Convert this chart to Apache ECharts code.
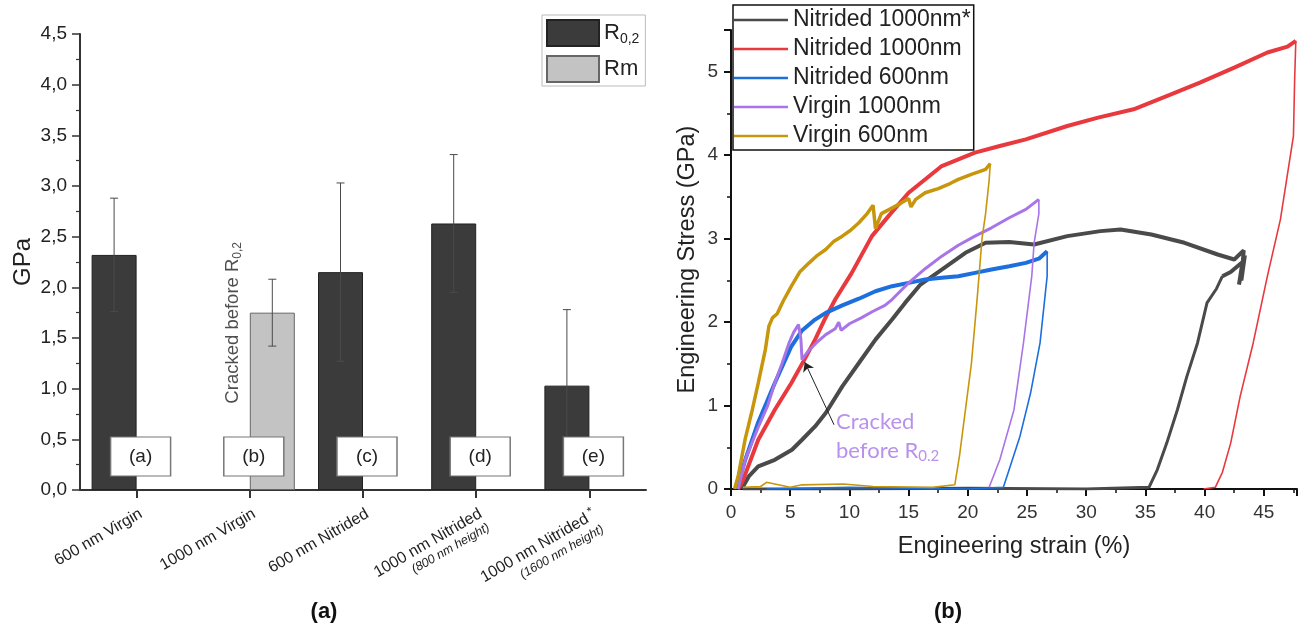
<!DOCTYPE html>
<html>
<head>
<meta charset="utf-8">
<script src="https://cdn.jsdelivr.net/npm/echarts@6/dist/echarts.min.js"></script>
<style>
html, body { margin: 0; padding: 0; background: #fff; }
#main { width: 1306px; height: 626px; }
</style>
</head>
<body>
<div id="main"></div>
<script>
// ---------- panel (a) : yield / tensile strength ----------
var samples = ['600 nm Virgin', '1000 nm Virgin', '600 nm Nitrided', '1000 nm Nitrided', '1000 nm Nitrided*'];
var sampleNotes = ['', '', '', '(800 nm height)', '(1600 nm height)'];
var boxTags = ['(a)', '(b)', '(c)', '(d)', '(e)'];
var r02 = [2.32, null, 2.15, 2.63, 1.03];
var r02Err = [0.56, null, 0.88, 0.68, 0.75];
var rm = [null, 1.75, null, null, null];
var rmErr = [null, 0.33, null, null, null];
var tagLevel = 0.33;
var crackedNote = [1, 1.65];

// ---------- panel (b) : stress-strain curves (strain %, stress GPa) ----------
var n1000sLoad = [[0.9,0],[1.5,0.15],[2.3,0.27],[3.7,0.35],[5.15,0.47],[6.0,0.59],[7.1,0.75],[8.0,0.91],[9.4,1.23],[10.8,1.51],[12.2,1.79],[13.6,2.03],[14.7,2.23],[16,2.45],[17.8,2.63],[19.8,2.83],[21.5,2.95],[23.5,2.96],[25.6,2.93],[28.4,3.03],[31.2,3.09],[32.9,3.11],[35.5,3.05],[38.3,2.95],[41.1,2.81],[42.5,2.75],[43.3,2.86],[43.1,2.5],[43.4,2.8],[42.9,2.45],[43.2,2.72],[42.2,2.6],[41.5,2.55]];
var n1000sUnload = [[41.5,2.55],[41.0,2.4],[40.2,2.23],[39.4,1.75],[38.5,1.35],[37.7,0.95],[36.8,0.55],[36.0,0.23],[35.3,0.02],[30,0],[20,0.01],[10,0],[1,0]];
var n1000Load = [[0.6,0],[1,0.1],[2.3,0.59],[3.7,0.95],[5.1,1.27],[6.2,1.55],[7.1,1.79],[7.9,2.03],[8.8,2.27],[10.2,2.59],[11.9,3.03],[13.3,3.27],[15.0,3.55],[17.8,3.87],[20.6,4.03],[22.7,4.11],[24.9,4.19],[28.4,4.35],[31,4.45],[34.0,4.55],[37,4.72],[39.6,4.87],[42.5,5.05],[45.3,5.23],[47.0,5.3],[47.7,5.37]];
var n1000Unload = [[47.7,5.37],[47.6,4.9],[47.5,4.23],[46.4,3.23],[45.3,2.55],[44.1,1.75],[43.0,1.11],[42.2,0.55],[41.5,0.2],[40.9,0.02],[39.9,0]];
var n600Load = [[0.5,0],[1.2,0.35],[2.3,0.8],[3.7,1.27],[5.1,1.71],[6.0,1.9],[7.0,2.02],[8.0,2.11],[9.4,2.2],[10.8,2.28],[12.2,2.37],[13.6,2.43],[15,2.47],[16.4,2.51],[17.8,2.53],[19.2,2.55],[20.6,2.59],[22.0,2.63],[23.5,2.67],[24.9,2.71],[26.0,2.76],[26.7,2.85]];
var n600Unload = [[26.7,2.85],[26.7,2.55],[26.1,1.75],[25.3,1.15],[24.4,0.63],[23.3,0.15],[23.0,0.02],[20,0],[10,0.02],[3,0]];
var v1000Load = [[0.6,0],[1.2,0.35],[2.3,0.74],[3.1,1.0],[3.7,1.27],[4.3,1.5],[4.9,1.75],[5.3,1.88],[5.7,1.97],[5.9,1.8],[6.0,1.55],[6.5,1.65],[7.2,1.75],[8.0,1.85],[8.8,1.92],[9.1,2.0],[9.3,1.9],[10,1.98],[11,2.05],[12,2.13],[13,2.2],[13.6,2.27],[15,2.47],[16.4,2.64],[17.8,2.79],[19.2,2.92],[20.6,3.03],[22,3.13],[23.5,3.25],[24.9,3.35],[26.0,3.47]];
var v1000Unload = [[26.0,3.47],[26.0,3.3],[25.6,2.95],[25.4,2.55],[24.7,1.75],[23.9,0.95],[22.7,0.35],[21.8,0.02]];
var v600Load = [[0.3,0],[0.6,0.15],[1.2,0.6],[1.8,0.95],[2.3,1.27],[2.9,1.67],[3.2,1.95],[3.5,2.05],[3.9,2.1],[4.4,2.25],[5.1,2.43],[5.8,2.6],[6.6,2.71],[7.3,2.8],[8.0,2.87],[8.7,2.97],[9.4,3.03],[10.1,3.1],[10.8,3.19],[11.5,3.3],[12.0,3.4],[12.2,3.12],[12.7,3.3],[13.5,3.36],[14.3,3.42],[15.0,3.48],[15.2,3.38],[15.6,3.47],[16.4,3.55],[17.5,3.6],[18.5,3.66],[19.2,3.71],[20.3,3.77],[21.5,3.83],[21.9,3.9]];
var v600Unload = [[21.9,3.9],[21.8,3.7],[21.5,3.3],[21.2,3.0],[20.8,2.3],[20.3,1.5],[19.8,0.95],[19.3,0.4],[18.9,0.05],[17,0.02],[12,0.03],[9.5,0.06],[6,0.05],[5,0.02],[3,0.08],[2.5,0.03],[1,0.02]];
var arrowFrom = [8.7, 0.77];
var arrowTo = [6.23, 1.52];
var crackedLabelAt = [8.87, 0.63];

var lineNames = ['Nitrided 1000nm*', 'Nitrided 1000nm', 'Nitrided 600nm', 'Virgin 1000nm', 'Virgin 600nm'];
var lineColors = ['#4a4a4a', '#e8393f', '#1c6fdc', '#a874e8', '#c8960c'];

var FONT = "'Liberation Sans', Arial, sans-serif";
var barW = 45;
var chart = echarts.init(document.getElementById('main'));

function errSeries(means, errs, side) {
    var data = [];
    means.forEach(function (m, i) {
        if (m != null) data.push([i, m - errs[i], m + errs[i]]);
    });
    return {
        type: 'custom', xAxisIndex: 0, yAxisIndex: 0, z: 5, silent: true,
        renderItem: function (params, api) {
            var top = api.coord([api.value(0), api.value(2)]);
            var bot = api.coord([api.value(0), api.value(1)]);
            var x = top[0] + side * barW / 2;
            var st = { stroke: '#4a4a4a', lineWidth: 1 };
            return { type: 'group', children: [
                { type: 'line', shape: { x1: x, y1: top[1], x2: x, y2: bot[1] }, style: st },
                { type: 'line', shape: { x1: x - 4, y1: top[1], x2: x + 4, y2: top[1] }, style: st },
                { type: 'line', shape: { x1: x - 4, y1: bot[1], x2: x + 4, y2: bot[1] }, style: st }
            ] };
        },
        data: data
    };
}

function curve(name, idx, data, width) {
    return {
        name: name, type: 'line', xAxisIndex: 1, yAxisIndex: 1,
        data: data, showSymbol: false, symbol: 'none', silent: true,
        lineStyle: { color: lineColors[idx], width: width },
        itemStyle: { color: lineColors[idx] }
    };
}

var option = {
    animation: false,
    backgroundColor: '#fff',
    grid: [
        { left: 80, top: 34, width: 566, height: 456 },
        { left: 731, top: 30, width: 566, height: 459 }
    ],
    legend: [
        {
            data: ['R0,2', 'Rm'], orient: 'vertical', left: 542, top: 15,
            icon: 'rect', itemWidth: 52, itemHeight: 26, itemGap: 8,
            padding: [4, 6, 3, 4], borderColor: '#bbb', borderWidth: 1,
            selectedMode: false,
            formatter: function (n) { return n === 'R0,2' ? '{r|R}{s|0,2}' : '{r|Rm}'; },
            textStyle: {
                fontFamily: FONT, color: '#222',
                rich: {
                    r: { fontSize: 22, fontFamily: FONT, color: '#222' },
                    s: { fontSize: 14, fontFamily: FONT, color: '#222', padding: [12, 0, 0, 0] }
                }
            }
        },
        {
            data: lineNames, orient: 'vertical', left: 733, top: 5,
            icon: 'rect', itemWidth: 54, itemHeight: 2.5, itemGap: 5,
            padding: [3, 3, 2, 1], borderColor: '#111', borderWidth: 1.5,
            selectedMode: false, backgroundColor: '#fff',
            textStyle: { fontFamily: FONT, fontSize: 23, color: '#222', lineHeight: 24 }
        }
    ],
    xAxis: [
        {
            type: 'category', gridIndex: 0, data: samples, boundaryGap: true,
            axisLine: { show: true, lineStyle: { color: '#333', width: 2 } },
            axisTick: { show: true, alignWithLabel: true, length: 8, lineStyle: { color: '#333', width: 2 } },
            splitLine: { show: false },
            axisLabel: {
                interval: 0, rotate: 30, margin: 15, verticalAlign: 'top', color: '#222', fontFamily: FONT, fontSize: 16,
                formatter: function (v, i) {
                    var main = v.replace('*', '');
                    var s = '{m|' + main + '}' + (v.indexOf('*') >= 0 ? '{sup| *}' : '');
                    if (sampleNotes[i]) s += '\n{n|' + sampleNotes[i] + '}';
                    return s;
                },
                rich: {
                    m: { fontSize: 16, fontFamily: FONT, color: '#222', lineHeight: 18 },
                    sup: { fontSize: 12, fontFamily: FONT, color: '#222', padding: [0, 0, 8, 0] },
                    n: { fontSize: 12.5, fontFamily: FONT, fontStyle: 'italic', color: '#222', lineHeight: 14 }
                }
            }
        },
        {
            type: 'value', gridIndex: 1, min: 0, max: 47.8, interval: 5,
            name: 'Engineering strain (%)', nameLocation: 'middle', nameGap: 46,
            nameTextStyle: { fontFamily: FONT, fontSize: 23.5, color: '#222' },
            axisLine: { show: true, onZero: false, lineStyle: { color: '#111', width: 2 } },
            axisTick: { show: true, length: 7, lineStyle: { color: '#111', width: 2 } },
            minorTick: { show: true, splitNumber: 2, length: 4, lineStyle: { color: '#111', width: 1.5 } },
            splitLine: { show: false },
            axisLabel: { margin: 14, fontFamily: FONT, fontSize: 19, color: '#333', showMaxLabel: false }
        }
    ],
    yAxis: [
        {
            type: 'value', gridIndex: 0, min: 0, max: 4.5, interval: 0.5,
            name: 'GPa', nameLocation: 'middle', nameGap: 45,
            nameTextStyle: { fontFamily: FONT, fontSize: 24, color: '#222' },
            axisLine: { show: true, lineStyle: { color: '#333', width: 2 } },
            axisTick: { show: true, length: 8, lineStyle: { color: '#333', width: 1.5 } },
            minorTick: { show: true, splitNumber: 2, length: 4, lineStyle: { color: '#333', width: 1.2 } },
            splitLine: { show: false },
            axisLabel: {
                margin: 13, fontFamily: FONT, fontSize: 19, color: '#222',
                formatter: function (v) { return v.toFixed(1).replace('.', ','); }
            }
        },
        {
            type: 'value', gridIndex: 1, min: 0, max: 5.5, interval: 1,
            name: 'Engineering Stress (GPa)', nameLocation: 'middle', nameGap: 31,
            nameTextStyle: { fontFamily: FONT, fontSize: 23.5, color: '#222' },
            axisLine: { show: true, onZero: false, lineStyle: { color: '#111', width: 2 } },
            axisTick: { show: true, length: 7, lineStyle: { color: '#111', width: 2 } },
            minorTick: { show: true, splitNumber: 2, length: 4, lineStyle: { color: '#111', width: 1.5 } },
            splitLine: { show: false },
            axisLabel: { margin: 13, fontFamily: FONT, fontSize: 19, color: '#333', showMaxLabel: false }
        }
    ],
    series: [
        {
            name: 'R0,2', type: 'bar', xAxisIndex: 0, yAxisIndex: 0, data: r02,
            barWidth: barW, barGap: '0%', silent: true,
            itemStyle: { color: '#3b3b3b', borderColor: '#222', borderWidth: 1 }
        },
        {
            name: 'Rm', type: 'bar', xAxisIndex: 0, yAxisIndex: 0, data: rm,
            barWidth: barW, barGap: '0%', silent: true,
            itemStyle: { color: '#c3c3c3', borderColor: '#666', borderWidth: 1 }
        },
        errSeries(r02, r02Err, -1),
        errSeries(rm, rmErr, 1),
        {
            type: 'scatter', xAxisIndex: 0, yAxisIndex: 0, z: 6, silent: true,
            data: boxTags.map(function (t, i) { return [i, tagLevel]; }),
            symbol: 'rect', symbolSize: [60, 39], symbolOffset: [4, 0],
            itemStyle: { color: '#fff', borderColor: '#777', borderWidth: 1.2, opacity: 1 },
            label: {
                show: true, position: 'inside', fontFamily: FONT, fontSize: 19, color: '#222',
                formatter: function (p) { return boxTags[p.dataIndex]; }
            }
        },
        {
            type: 'scatter', xAxisIndex: 0, yAxisIndex: 0, z: 6, silent: true,
            data: [crackedNote], symbolSize: 0,
            label: {
                show: true, position: 'inside', rotate: 90, offset: [0, -17],
                formatter: '{t|Cracked before R}{s|0,2}',
                rich: {
                    t: { fontFamily: FONT, fontSize: 18.5, color: '#222' },
                    s: { fontFamily: FONT, fontSize: 12, color: '#222', padding: [9, 0, 0, 0] }
                }
            }
        },
        curve(lineNames[0], 0, n1000sLoad, 4),
        curve(lineNames[0], 0, n1000sUnload, 3),
        curve(lineNames[1], 1, n1000Load, 4),
        curve(lineNames[1], 1, n1000Unload, 1.6),
        curve(lineNames[2], 2, n600Load, 4),
        curve(lineNames[2], 2, n600Unload, 1.6),
        curve(lineNames[3], 3, v1000Load, 3),
        curve(lineNames[3], 3, v1000Unload, 1.6),
        curve(lineNames[4], 4, v600Load, 3.5),
        curve(lineNames[4], 4, v600Unload, 1.6),
        {
            type: 'scatter', xAxisIndex: 1, yAxisIndex: 1, z: 6, silent: true,
            data: [crackedLabelAt], symbolSize: 0,
            label: {
                show: true, position: 'inside', align: 'left',
                formatter: '{t|Cracked}\n{t|before R}{s|0.2}',
                rich: {
                    t: { fontFamily: 'Lato, sans-serif', fontSize: 22, color: '#a874e8', lineHeight: 29 },
                    s: { fontFamily: 'Lato, sans-serif', fontSize: 15, color: '#a874e8', padding: [10, 0, 0, 0] }
                }
            },
            markLine: {
                silent: true, symbol: ['none', 'arrow'], symbolSize: 9,
                label: { show: false },
                lineStyle: { color: '#222', width: 1, type: 'solid' },
                data: [[{ coord: arrowFrom }, { coord: arrowTo }]]
            }
        }
    ],
    graphic: [
        { type: 'text', x: 324, y: 612, style: { text: '(a)', fontFamily: FONT, fontSize: 22, fontWeight: 'bold', fill: '#111', align: 'center', verticalAlign: 'middle' } },
        { type: 'text', x: 948, y: 612, style: { text: '(b)', fontFamily: FONT, fontSize: 22, fontWeight: 'bold', fill: '#111', align: 'center', verticalAlign: 'middle' } }
    ]
};
chart.setOption(option);
</script>
</body>
</html>
